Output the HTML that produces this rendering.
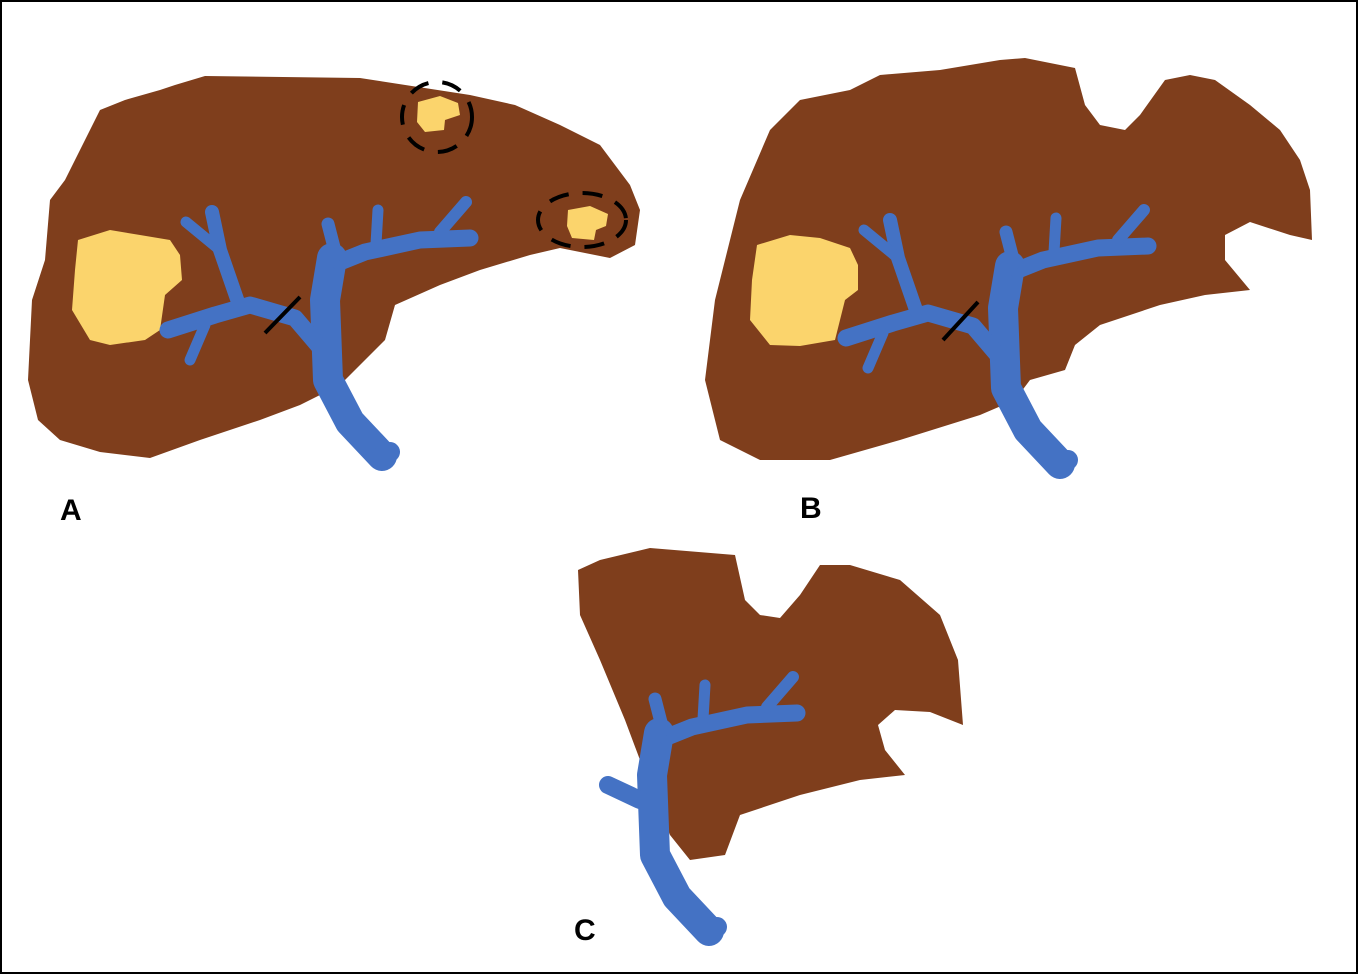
<!DOCTYPE html>
<html><head><meta charset="utf-8"><style>
html,body{margin:0;padding:0;background:#fff}
svg{display:block}
text{font-family:"Liberation Sans",sans-serif;font-weight:bold;font-size:30px;fill:#000}
</style></head><body>
<svg width="1358" height="975" viewBox="0 0 1358 975" xmlns="http://www.w3.org/2000/svg">
<rect x="1" y="1" width="1356" height="972" fill="#fff" stroke="#000" stroke-width="2"/>
<defs>
<g id="vtop" stroke="#4472C4" fill="none" stroke-linecap="round" stroke-linejoin="round">
  <path d="M332,258 L325,300 L328,380 L350,422 L382,456" stroke-width="30"/>
  <path d="M382,456 L390,452" stroke-width="20"/>
  <path d="M340,262 L365,252 L420,240 L470,238" stroke-width="17"/>
  <path d="M440,232 L466,202" stroke-width="12"/>
  <path d="M376,244 L378,210" stroke-width="11"/>
  <path d="M336,255 L328,224" stroke-width="13"/>
</g>
<g id="vleft" stroke="#4472C4" fill="none" stroke-linecap="round" stroke-linejoin="round">
  <path d="M318,345 L295,318 L250,305 L215,315 L168,330" stroke-width="17"/>
  <path d="M238,302 L220,250 L212,212" stroke-width="14"/>
  <path d="M220,250 L186,222" stroke-width="11"/>
  <path d="M205,325 L190,360" stroke-width="11"/>
</g>
</defs>

<!-- A -->
<path fill="#7F3E1C" d="M175,85 L205,76 L360,78 L470,95 L515,105 L560,125 L600,145 L630,185 L640,210 L635,245 L610,258 L560,248 L530,255 L480,270 L440,285 L395,305 L385,340 L360,365 L340,385 L300,405 L260,420 L200,440 L150,458 L100,452 L60,440 L38,420 L28,380 L32,300 L45,260 L50,200 L65,180 L80,150 L100,110 L125,100 L160,90 Z"/>
<path fill="#FBD46C" d="M78,240 L110,230 L140,235 L170,240 L180,255 L182,280 L165,295 L160,330 L145,340 L110,345 L90,340 L72,310 L75,270 Z"/>
<path fill="#FBD46C" d="M418,102 L440,96 L458,103 L460,115 L445,120 L444,130 L425,132 L417,122 Z"/>
<path fill="#FBD46C" d="M568,210 L590,206 L608,214 L606,226 L596,230 L594,240 L572,238 L567,226 Z"/>
<ellipse cx="437" cy="117" rx="35" ry="35" fill="none" stroke="#000" stroke-width="4" stroke-dasharray="20,14"/>
<ellipse cx="582" cy="220" rx="44" ry="27" fill="none" stroke="#000" stroke-width="4" stroke-dasharray="20,14"/>
<use href="#vtop"/><use href="#vleft"/>
<line x1="265" y1="333" x2="300" y2="297" stroke="#000" stroke-width="4"/>
<text x="60" y="520">A</text>

<!-- B -->
<path fill="#7F3E1C" d="M705,380 L715,300 L740,200 L770,130 L800,100 L850,90 L880,75 L940,70 L1000,60 L1025,58 L1075,68 L1085,105 L1100,125 L1125,130 L1140,115 L1165,80 L1190,75 L1215,80 L1250,105 L1280,130 L1300,160 L1310,190 L1312,240 L1290,235 L1250,222 L1225,235 L1225,260 L1250,290 L1205,295 L1160,305 L1100,325 L1075,345 L1065,370 L1030,380 L1015,400 L980,415 L900,440 L830,460 L760,460 L720,440 Z"/>
<path fill="#FBD46C" d="M757,245 L790,235 L820,238 L850,248 L858,265 L858,290 L845,300 L835,340 L800,346 L770,345 L750,320 L752,280 Z"/>
<g transform="translate(678,8)"><use href="#vtop"/><use href="#vleft"/></g>
<line x1="943" y1="340" x2="978" y2="302" stroke="#000" stroke-width="4"/>
<text x="800" y="518">B</text>

<!-- C -->
<path fill="#7F3E1C" d="M578,570 L600,560 L650,548 L735,555 L745,600 L760,615 L780,618 L800,595 L820,565 L850,565 L900,580 L940,615 L958,660 L963,725 L930,712 L895,710 L878,725 L885,750 L905,775 L860,780 L800,795 L740,815 L725,855 L690,860 L670,835 L640,760 L625,720 L600,660 L580,615 Z"/>
<g transform="translate(327,475)"><use href="#vtop"/></g>
<path d="M608,785 L640,800" stroke="#4472C4" stroke-width="18" stroke-linecap="round"/>
<text x="574" y="940">C</text>
</svg>
</body></html>
